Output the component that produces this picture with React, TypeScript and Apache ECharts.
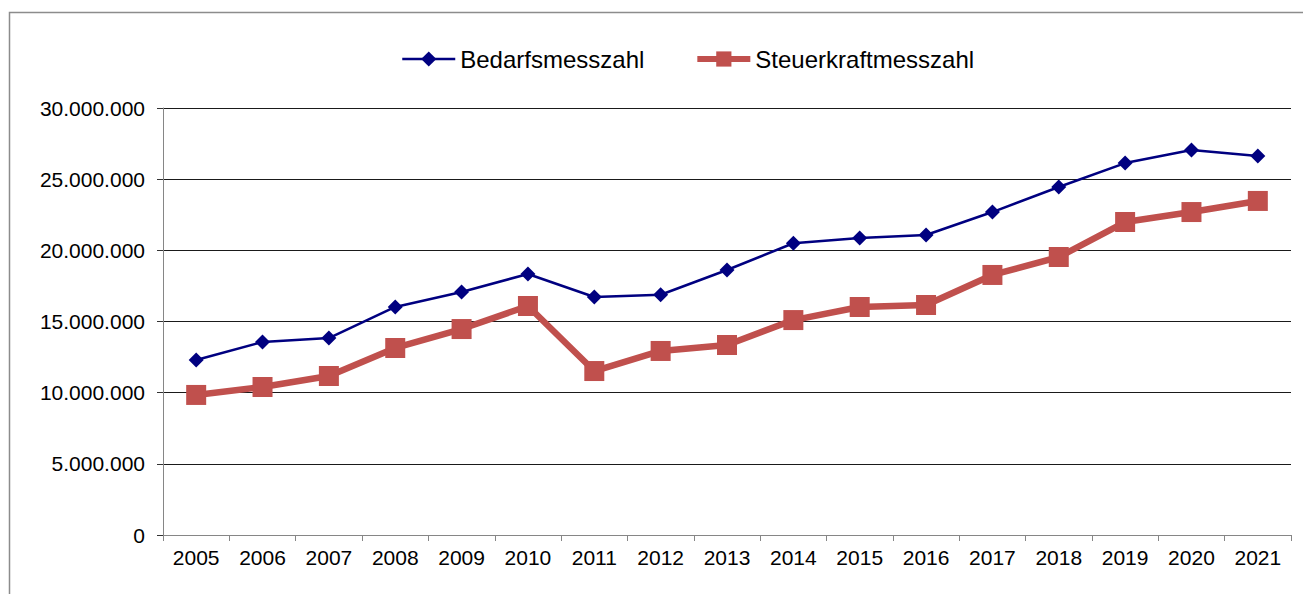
import React, { useEffect, useRef } from "react";
import * as echarts from "echarts";

const years = ["2005","2006","2007","2008","2009","2010","2011","2012","2013","2014","2015","2016","2017","2018","2019","2020","2021"];
const bedarfsmesszahl = [12290000,13560000,13840000,16020000,17070000,18340000,16720000,16880000,18620000,20500000,20870000,21080000,22690000,24450000,26130000,27050000,26630000];
const steuerkraftmesszahl = [9840000,10400000,11170000,13140000,14470000,16090000,11520000,12930000,13350000,15100000,16020000,16160000,18270000,19530000,21990000,22690000,23470000];
const seriesNames = ["Bedarfsmesszahl", "Steuerkraftmesszahl"];

const fmt = (v: number) => String(Math.round(v)).replace(/\B(?=(\d{3})+(?!\d))/g, ".");

export default function App() {
  const ref = useRef<HTMLDivElement>(null);
  useEffect(() => {
    document.body.style.margin = "0";
    const chart = echarts.init(ref.current!, null, { renderer: "svg" });
    const font = "'Liberation Sans', Arial, sans-serif";
    chart.setOption({
      animation: false,
      backgroundColor: "#ffffff",
      textStyle: { fontFamily: font },
      graphic: [
        {
          type: "rect",
          shape: { x: 9.5, y: 12.5, width: 1400, height: 700 },
          style: { fill: "none", stroke: "#8c8c8c", lineWidth: 1.5 },
          silent: true,
        },
      ],
      legend: {
        top: 42,
        left: 396,
        itemWidth: 53,
        itemHeight: 19,
        itemGap: 50,
        textStyle: { fontSize: 24, color: "#000", fontFamily: font },
        data: [
          { name: seriesNames[0], lineStyle: { width: 2.5, color: "#000080" }, itemStyle: { color: "#000080" } },
          { name: seriesNames[1], lineStyle: { width: 6, color: "#C0504D" }, itemStyle: { color: "#C0504D" } },
        ],
      },
      grid: { left: 163, top: 108, right: 12, bottom: 59, containLabel: false },
      xAxis: {
        type: "category",
        data: years,
        boundaryGap: true,
        axisLine: { show: true, lineStyle: { color: "#868686", width: 1 } },
        axisTick: { show: true, length: 6, lineStyle: { color: "#868686" } },
        axisLabel: { fontSize: 21, color: "#000", margin: 12, fontFamily: font },
        splitLine: { show: false },
      },
      yAxis: {
        type: "value",
        min: 0,
        max: 30000000,
        interval: 5000000,
        axisLine: { show: true, lineStyle: { color: "#868686", width: 1 } },
        axisTick: { show: true, length: 6, lineStyle: { color: "#333" } },
        axisLabel: { fontSize: 21, color: "#000", margin: 18, fontFamily: font, formatter: (v: number) => fmt(v) },
        splitLine: { show: true, lineStyle: { color: "#1a1a1a", width: 1 } },
      },
      series: [
        {
          name: seriesNames[0],
          type: "line",
          data: bedarfsmesszahl,
          symbol: "diamond",
          symbolSize: 15,
          itemStyle: { color: "#000080" },
          lineStyle: { color: "#000080", width: 2.5 },
          z: 3,
        },
        {
          name: seriesNames[1],
          type: "line",
          data: steuerkraftmesszahl,
          symbol: "rect",
          symbolSize: 20,
          itemStyle: { color: "#C0504D" },
          lineStyle: { color: "#C0504D", width: 6.5 },
          z: 2,
        },
      ],
    });
    return () => chart.dispose();
  }, []);
  return <div ref={ref} style={{ width: 1303, height: 594 }} />;
}
